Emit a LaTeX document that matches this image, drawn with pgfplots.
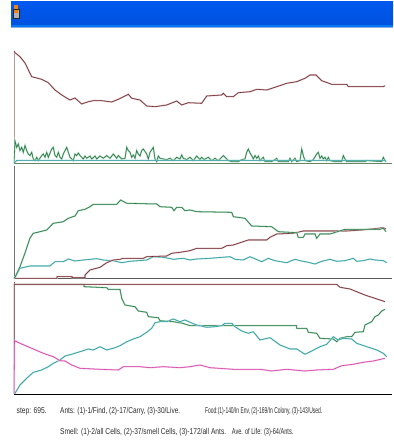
\documentclass[border=0pt]{standalone}
\usepackage{fontspec}
\setmainfont{Liberation Sans}
\usepackage{graphicx}
\usepackage{pgfplots}
\pgfplotsset{compat=1.18}

\definecolor{brownln}{RGB}{105,38,45}
\definecolor{brownhalo}{RGB}{215,180,182}
\definecolor{greenln}{RGB}{35,115,70}
\definecolor{greenhalo}{RGB}{165,212,178}
\definecolor{tealln}{RGB}{40,150,150}
\definecolor{tealhalo}{RGB}{170,222,222}
\definecolor{magln}{RGB}{210,60,165}
\definecolor{maghalo}{RGB}{244,185,225}
\definecolor{bartop}{RGB}{0,88,238}
\definecolor{barbot}{RGB}{0,82,222}
\definecolor{barline}{RGB}{140,172,232}
\definecolor{stattext}{RGB}{45,45,45}

\pgfplotsset{
  monitor/.style={
    scale only axis, width=378pt, height=112pt,
    xmin=0, xmax=378, ymin=0, ymax=112,
    axis lines*=left, axis line style={-, line width=0.8pt},
    xtick=\empty, ytick=\empty, no markers,
  },
  brownser/.style={draw=brownln, line width=0.55pt, preaction={draw=brownhalo, line width=1.5pt}},
  greenser/.style={draw=greenln, line width=0.55pt, preaction={draw=greenhalo, line width=1.5pt}},
  tealser/.style={draw=tealln, line width=0.55pt, preaction={draw=tealhalo, line width=1.5pt}},
  magser/.style={draw=magln, line width=0.55pt, preaction={draw=maghalo, line width=1.5pt}},
}

\newcommand{\stat}[2]{\resizebox{#1}{\height}{#2}}

\begin{document}
\begin{tikzpicture}[x=1pt, y=1pt]
% canvas and window caption
\fill[white] (0,0) rectangle (393,446);
\useasboundingbox (0,0) rectangle (393,446);
\shade[top color=bartop, bottom color=barbot] (11,444) rectangle (393,421);
\fill[bartop!80!cyan] (11,421) rectangle (393,419);
\fill[barline] (11,419) rectangle (393,418);
% small application icon
\fill[gray!60] (13,428) rectangle (19,437);
\fill[orange!80!brown] (14,433) rectangle (18,441);
\draw[gray!30!black, line width=0.5pt] (13,428) rectangle (19,437);

% ---- Ants ----
\begin{axis}[monitor, at={(14,283)}, anchor=south west,
  x axis line style={draw=black!80!green!60}, y axis line style={draw=black!80!red!40}]
\addplot[greenser] coordinates {
(0,0) (1,22) (2.7,15.7) (4.3,19) (6,12.4) (7.7,15.7) (9.3,10.7) (11,17.4) (12.7,12.4)
(14.3,9) (16,7.4) (17.7,10.7) (19.3,4) (21,2.4) (22.7,5.7) (24.3,2.4) (27.7,7.4) (29.3,9)
(31,5.7) (32.7,10.7) (34.3,5.7) (37.7,14) (39.3,15.7) (41,7.4) (42.7,5.7) (44.3,10.7)
(46,5.7) (47.7,4) (49.3,9) (52.7,15.7) (54.3,10.7) (56,5.7) (57.7,4) (59.3,2.4) (61,9)
(62.7,7.4) (64.3,10) (66,7.4) (67.7,5.7) (69.3,4) (71,7) (72.7,4.7) (76,7) (77.7,4) (81,7)
(82.7,4) (86,7) (89.3,4.7) (92.7,7.4) (96,4.7) (99.3,9) (102.7,4.7) (104.3,7.4) (107.7,4)
(111,4.7) (112.7,15.7) (114.3,12.4) (116,10.7) (117.7,5.7) (119.3,8) (121,4.7) (122.7,12.4)
(124.3,9) (126,7) (127.7,12.4) (129.3,14) (132.7,9) (134.3,4) (136,10.7) (139.3,15.7)
(141,4) (142.7,1.4) (144.3,7) (146,4.7) (149.3,4) (152.7,3.4) (156,4.7) (159.3,2.4)
(162.7,5.7) (166,4) (167.7,8) (169.3,4.7) (172.7,3.4) (176,5.7) (179.3,2.4) (182.7,7)
(186,3.4) (187.7,5.7) (190,3.4) (194.3,5.7) (197.7,2.4) (201,4.7) (204.3,2.4) (209.3,7.4)
(211,5.7) (214.3,2.4) (217.7,1.4) (224.3,1.4) (227.7,3.4) (231,4) (232.7,10.7) (234.3,14)
(236,10) (237.7,7.4) (239.3,4) (241,7.4) (242.7,4.7) (244.3,7) (246,2.4) (249.3,5.7)
(251,1.4) (257.7,1.4) (262.7,4.7) (264.3,1.4) (274.3,1.4) (276,4.7) (277.7,1.4) (281,4.7)
(282.7,1.4) (286,2.4) (287.7,14) (289.3,7.4) (291,2.4) (296,1.4) (299.3,3.4) (302.7,9)
(304.3,10.7) (306,4.7) (307.7,7) (309.3,4) (311,5.7) (312.7,2.4) (314.3,5.7) (316,2.4)
(321,1.4) (327.7,1.4) (329.3,7.4) (331,4) (332.7,1.4) (351,1.4) (352.7,2.4) (367.7,1.4)
(369.3,5.7) (371,2.4) (372,1.4)
};
\addplot[tealser] coordinates {(0,0) (3,2.6) (372,2.6)};
\addplot[brownser] coordinates {
(0,112) (1,110.3) (6,106.3) (11,100) (17.7,86.3) (27.7,83.7) (34.3,80.3) (41,73)
(47.7,68) (56,63) (61,65) (67.7,59) (74.3,61.3) (79.3,62.3) (87.7,62.3) (97.7,61)
(104.3,63.7) (114.3,68.7) (117.7,64.7) (126,63) (132.7,57) (141,56.3) (152.7,58)
(162.7,62) (167.7,58) (174.3,60.3) (187.7,59.7) (192.7,67) (207.7,68) (209.3,69.7)
(212.7,66.3) (219.3,66.3) (224.3,70.3) (236,71.3) (242.7,73.7) (252.7,73) (262.7,76.3)
(272.7,79.7) (282.7,81.3) (291,84.7) (296,88) (302,88) (307.7,82.3) (317.7,78.7)
(332.7,78.7) (334.3,76.3) (369.3,76.3) (371,77.3)
};
\end{axis}

% ---- Food ----
\begin{axis}[monitor, at={(14,167.7)}, anchor=south west,
  x axis line style={draw=black!65}, y axis line style={draw=black!55}]
\addplot[tealser] coordinates {
(0,0) (1,1) (6,10) (16,12.3) (36,12.3) (41,16.6) (49.3,16.6) (54.3,19.3) (61,17.3)
(69.3,18.3) (82.7,19.6) (89.3,18.3) (99.3,17.6) (107.7,15.6) (116,17) (132.7,18.3)
(139.3,21.6) (149.3,21) (159.3,19) (169.3,20) (176,18.3) (182.7,19.3) (196,20)
(216,21.6) (221,19) (229.3,18.3) (236,21.6) (247.7,16.6) (254.3,20) (261,17.6)
(272.7,15.6) (281,19) (286,17.6) (294.3,16) (301,14.3) (307.7,17) (316,19) (322.7,17)
(331,17.6) (339.3,20) (342.7,17) (349.3,17.6) (356,19.3) (361,18.3) (369.3,17.6) (372.7,15.6)
};
\addplot[brownser] coordinates {
(0,0) (43,0) (43,1.6) (58,1.6) (58,0.6) (71,0.6) (71,3.3) (76,8.3) (86,11) (92.7,15.6)
(99.3,18.3) (106,19) (109.3,20) (129.3,20) (132.7,21.6) (152.7,22.3) (157.7,25) (166,26)
(176,27.6) (182.7,30) (207.7,30) (212.7,32.6) (219.3,33.3) (234.3,38.3) (252.7,38.3)
(256,41) (262.7,44.3) (279.3,45) (289.3,47.3) (332.7,47.3) (347.7,48.3) (369.3,50.6) (372,49.3)
};
\addplot[greenser] coordinates {
(0,0) (1,1) (6,11.6) (11,25.3) (16,40.3) (19.3,45) (26,46.6) (32.7,48.3) (39.3,55)
(49.3,56.6) (54.3,60) (61,62.3) (64.3,67.6) (71,69) (76,71.6) (79.3,74) (102.7,74)
(106.7,78.3) (112.7,75) (142.7,74.3) (146,71.6) (157.7,71) (160,67.6) (162.7,71)
(167.7,71) (171,67.6) (176,68.3) (182.7,66.6) (217.7,66) (219.3,61.6) (231,60)
(237.7,52.3) (257.7,51.6) (264.3,46.6) (282.7,45.6) (284.3,41) (289.3,41) (291,44.3)
(301,44.3) (302.7,40) (306,44.3) (316,44.3) (331,49) (366,49) (369.3,50) (372,46.6)
};
\end{axis}

% ---- Smell ----
\begin{axis}[monitor, at={(14,52)}, anchor=south west,
  x axis line style={draw=black}, y axis line style={draw=black!45!red!30!gray}]
\addplot[greenser] coordinates {
(0,109.7) (70,109.7) (70,107.3) (92.7,106.3) (94.3,104.7) (106,104.7) (107.7,95.7)
(111,89) (121,87.3) (124.3,83) (132.7,81.7) (134.3,77.3) (144.3,76.3) (146,73.3)
(159.3,72.3) (168.7,70.7) (176,68.3) (282.7,68.3) (282.7,65.7) (292.7,65.7) (294.3,61.7)
(302.7,60.7) (306,55.7) (319.3,55) (322.7,52.3) (326,55.7) (332.7,57.3) (337.7,57.3)
(341,61.7) (349.3,62.3) (351,69) (357.7,72.3) (361,77.3) (364.3,79) (367.7,83) (371,84.7)
};
\addplot[tealser] coordinates {
(0,0) (1,0.7) (6,9) (12.7,15.7) (19.3,21.7) (27.7,24) (34.3,27.3) (39.3,30.7) (46,34)
(51,38) (57.7,39.7) (66,42.3) (74.3,45) (79.3,44) (86,47.3) (92.7,44) (101,46.3)
(106,48.3) (112.7,52.3) (119.3,55) (126,57.3) (132.7,61.7) (137.7,65.7) (141,71.3)
(146,72.3) (152.7,72.3) (159.3,75) (166,72.3) (171,74) (176,71.7) (182.7,69) (192.7,66.7)
(201,67.3) (207.7,68.3) (211,70.7) (217.7,70.7) (221,67.3) (227.7,63) (234.3,60.7)
(239.3,62.3) (246,54) (256,56.3) (266,49) (276,45) (282.7,45) (291,39.7) (297.7,43)
(306,47.3) (312.7,49.7) (319.3,57.3) (324.3,54) (329.3,55.7) (337.7,55) (342.7,50.7)
(352.7,47.3) (362.7,44) (369.3,40.7) (372.7,37.3)
};
\addplot[brownser] coordinates {
(0,0) (0,109.7) (322.7,109.7) (326,106.7) (336,105) (342.7,102.3) (352.7,98.3)
(361,95.7) (371,92.3)
};
\addplot[magser] coordinates {
(0,0) (0.5,53.3) (6,50.7) (19.3,45) (29.3,40.7) (39.3,37.3) (46,33.3) (51,33) (57.7,29)
(66,25.7) (86,24.7) (104.3,24) (109.3,27.3) (126,27.3) (136,26.3) (149.3,27.3) (166,26.3)
(176,27.3) (186,29) (196,26.3) (219.3,24.7) (246,24.7) (257.7,23) (272.7,24.7) (291,23)
(302.7,24) (319.3,24.7) (327.7,28.3) (339.3,29.7) (349.3,31.7) (359.3,33) (371,35.7)
};
\end{axis}

% status lines
\begin{scope}[every node/.style={anchor=base west, inner sep=0pt, text=stattext,
    font=\fontsize{8.5}{10}\selectfont}]
\node at (16.5,32.2) {\stat{30pt}{step: 695.}};
\node at (60,32.2) {\stat{120pt}{Ants: (1)-1/Find, (2)-17/Carry, (3)-30/Live.}};
\node at (205,32.2) {\stat{117pt}{Food:(1)-140/In Env, (2)-169/In Colony, (3)-143/Used.}};
\node at (60,11.8) {\stat{166pt}{Smell: (1)-2/all Cells, (2)-37/smell Cells, (3)-172/all Ants.}};
\node at (231.7,11.8) {\stat{61.5pt}{Ave. of Life: (3)-64/Ants.}};
\end{scope}
\end{tikzpicture}
\end{document}
